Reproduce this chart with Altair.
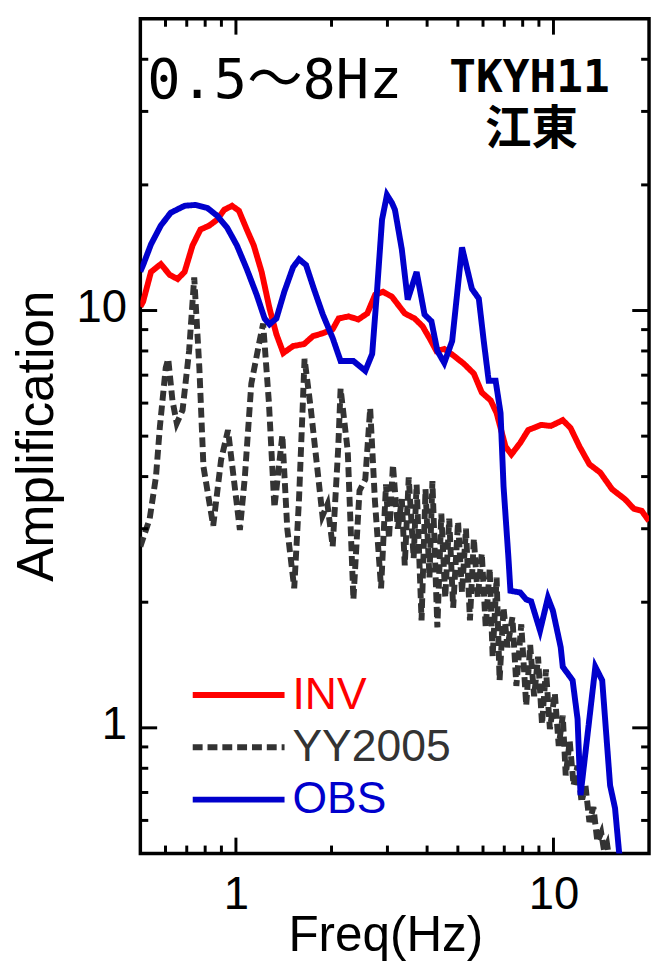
import altair as alt
import pandas as pd

# ---------------- data ----------------
inv_f = [0.50, 0.510, 0.540, 0.580, 0.619, 0.655, 0.689, 0.730, 0.773, 0.824,
         0.873, 0.918, 0.972, 1.022, 1.082, 1.138, 1.205, 1.276, 1.341, 1.410,
         1.514, 1.639, 1.748, 1.878, 2.017, 2.106, 2.262, 2.430, 2.592, 2.744,
         2.906, 3.100, 3.402, 3.654, 3.870, 4.069, 4.279, 4.530, 4.867, 5.227,
         5.615, 5.947, 6.343, 6.622, 7.063, 7.372, 7.862, 8.326, 9.139, 9.815,
         10.70, 11.32, 12.08, 12.98, 14.04, 15.30, 16.80, 17.91, 18.97, 20.0]
inv_a = [10.22, 10.50, 12.37, 12.92, 12.17, 11.90, 12.37, 14.32, 15.63, 15.98,
         16.51, 17.43, 17.82, 17.34, 15.63, 14.32, 12.37, 10.11, 8.77, 7.91,
         8.22, 8.31, 8.68, 8.82, 9.02, 9.57, 9.68, 9.52, 9.84, 10.91,
         11.09, 10.79, 9.84, 9.57, 9.17, 8.59, 8.00, 8.09, 7.78, 7.45,
         7.06, 6.36, 6.09, 5.68, 4.72, 4.52, 4.82, 5.17, 5.32, 5.29,
         5.46, 5.23, 4.72, 4.28, 4.09, 3.73, 3.53, 3.35, 3.31, 3.13]

obs_f = [0.50, 0.510, 0.540, 0.580, 0.623, 0.689, 0.746, 0.812, 0.873, 0.938,
         1.007, 1.082, 1.162, 1.231, 1.276, 1.341, 1.420, 1.514, 1.581, 1.663,
         1.760, 1.878, 2.017, 2.136, 2.344, 2.555, 2.686, 2.785, 2.885, 2.990,
         3.100, 3.168, 3.330, 3.475, 3.707, 3.926, 4.128, 4.309, 4.530, 4.797,
         5.152, 5.535, 5.820, 6.032, 6.252, 6.574, 6.814, 6.963, 7.216, 7.320,
         7.862, 8.208, 8.506, 9.073, 9.607, 9.957, 10.54, 10.70, 11.49, 11.91,
         12.17, 12.79, 13.55, 14.24, 15.08, 15.63, 16.09, 16.4]
obs_a = [12.4, 12.85, 14.40, 15.98, 17.15, 17.82, 17.91, 17.62, 16.87, 15.80,
         14.32, 12.57, 10.91, 9.57, 9.27, 9.57, 11.09, 12.71, 13.27, 12.85,
         11.27, 9.78, 8.59, 7.57, 7.57, 7.17, 7.87, 11.27, 16.51, 18.92,
         18.11, 17.43, 14.01, 10.62, 12.37, 9.78, 9.42, 8.00, 7.49, 8.45,
         14.17, 11.27, 10.68, 8.45, 6.79, 6.79, 5.68, 3.79, 2.55, 2.13,
         2.11, 2.03, 2.01, 1.71, 2.05, 1.91, 1.56, 1.40, 1.30, 1.05,
         0.690, 0.956, 1.40, 1.30, 0.728, 0.642, 0.505, 0.46]

yy_f = [0.50, 0.535, 0.560, 0.576, 0.601, 0.612, 0.631, 0.651, 0.679, 0.712,
        0.739, 0.767, 0.790, 0.848, 0.898, 0.944, 1.029, 1.067, 1.118, 1.187,
        1.218, 1.270, 1.322, 1.400, 1.451, 1.526, 1.580, 1.645, 1.723, 1.873,
        1.942, 2.017, 2.100, 2.136, 2.250, 2.344, 2.450, 2.555, 2.647, 2.740,
        2.865,
        2.969, 3.034, 3.122, 3.236, 3.330, 3.402, 3.501, 3.628, 3.707, 3.842,
        3.954, 4.069, 4.157, 4.309, 4.434, 4.563, 4.696, 4.832, 5.007, 5.152,
        5.302, 5.457, 5.615, 5.778, 5.947, 6.119, 6.297, 6.434, 6.622, 6.766,
        6.963, 7.165, 7.426, 7.642, 7.918, 8.208, 8.446, 8.692, 8.944, 9.204,
        9.471, 9.745, 10.10, 10.39, 10.70, 10.93, 11.25, 11.57, 11.91, 12.26,
        12.61, 12.98, 13.36, 13.75, 14.14, 14.45, 14.76, 15.08]
yy_a = [2.72, 3.17, 4.00, 5.26, 7.29, 7.66, 6.09, 5.37, 5.77, 8.00,
        12.0, 7.29, 4.23, 3.05, 4.39, 5.17, 2.98, 4.00, 6.68, 8.45,
        9.30, 6.02, 3.37, 5.03, 3.00, 2.16, 3.53, 7.66, 5.77, 3.22,
        3.43, 2.72, 4.70, 6.50, 4.60, 2.03, 3.70, 3.94, 5.83, 3.50,
        2.16,
        3.83, 2.84, 4.27, 3.00, 3.53, 2.45, 3.98, 2.55, 3.83, 1.81,
        3.73, 2.29, 3.90, 1.74, 3.26, 2.05, 3.17, 1.94, 3.12, 2.11,
        3.00, 1.81, 2.84, 2.05, 2.62, 1.74, 2.41, 1.48, 2.29, 1.30,
        1.94, 1.56, 1.84, 1.26, 1.77, 1.13, 1.58, 1.19, 1.48, 1.02,
        1.38, 0.993, 1.21, 0.905, 1.07, 0.769, 0.930, 0.728, 0.812, 0.664,
        0.728, 0.595, 0.646, 0.533, 0.560, 0.505, 0.525, 0.47]

series = ["INV", "YY2005", "OBS"]
colors = ["#ff0000", "#333333", "#0000cc"]
dashes = [[1, 0], [10, 5], [1, 0]]

x_labels = [1, 10]
y_labels = [1, 10]
x_major = [1, 10]
x_minor = [0.6, 0.7, 0.8, 0.9, 2, 3, 4, 5, 6, 7, 8, 9]
y_major = [1, 10]
y_minor = [0.6, 0.7, 0.8, 0.9, 2, 3, 4, 5, 6, 7, 8, 9, 20, 30, 40]

title_range = "0.5～8Hz"
station = "TKYH11"
place = "江東"

# ---------------- chart ----------------
W, H = 515, 845
MAJ, MIN = 16, 8
FONT = "Liberation Sans, Arial, sans-serif"
LW = 6

xs = alt.Scale(type="log", domain=[0.5, 20], nice=False)
ys = alt.Scale(type="log", domain=[0.5, 50], nice=False)

x_axis = alt.Axis(values=x_labels, format="d", ticks=False, tickSize=0, domain=False,
                  grid=False, labelFontSize=46, labelFont=FONT, labelColor="black",
                  labelPadding=20, labelFlush=False, title="Freq(Hz)", titleFontSize=50,
                  titleFont=FONT, titleFontWeight="normal", titleColor="black",
                  titleX=248, titleY=98, titleBaseline="alphabetic", titleAlign="center")
y_axis = alt.Axis(values=y_labels, format="d", ticks=False, tickSize=0, domain=False,
                  grid=False, labelFontSize=46, labelFont=FONT, labelColor="black",
                  labelPadding=14, labelBaseline="alphabetic", labelOffset=11, labelFlush=False,
                  title="Amplification", titleFontSize=52, titleFont=FONT,
                  titleFontWeight="normal", titleColor="black", titleX=-89, titleY=422,
                  titleAngle=270, titleBaseline="alphabetic", titleAlign="center")

frames = []
for name, fs, as_ in [("INV", inv_f, inv_a), ("YY2005", yy_f, yy_a), ("OBS", obs_f, obs_a)]:
    frames.append(pd.DataFrame({"f": fs, "a": as_, "series": name}))
df = pd.concat(frames, ignore_index=True)

legend = alt.Legend(orient="none", legendX=77, legendY=662, title=None,
                    symbolType="M-4,0H4", symbolSize=540, symbolStrokeWidth=LW,
                    labelFontSize=45, labelFont=FONT, labelOffset=32, labelLimit=0,
                    labelColor=alt.ExprRef(expr="datum.label == 'INV' ? '#ff0000' : (datum.label == 'OBS' ? '#0000cc' : '#333333')"),
                    rowPadding=7, padding=0)


def line_layer(name):
    return alt.Chart(df[df.series == name]).mark_line(strokeWidth=LW, clip=True, strokeCap="butt").encode(
        x=alt.X("f:Q", scale=xs, axis=x_axis),
        y=alt.Y("a:Q", scale=ys, axis=y_axis),
        color=alt.Color("series:N", scale=alt.Scale(domain=series, range=colors), legend=legend),
        strokeDash=alt.StrokeDash("series:N", scale=alt.Scale(domain=series, range=dashes), legend=legend),
    )


def xticks(vals, length):
    d = pd.DataFrame({"v": vals})
    base = alt.Chart(d).mark_rule(color="black", strokeWidth=3)
    enc_x = alt.X("v:Q", scale=xs, axis=x_axis)
    return [base.encode(x=enc_x, y=alt.value(H), y2=alt.value(H - length)),
            base.encode(x=enc_x, y=alt.value(0), y2=alt.value(length))]


def yticks(vals, length):
    d = pd.DataFrame({"v": vals})
    base = alt.Chart(d).mark_rule(color="black", strokeWidth=3)
    enc_y = alt.Y("v:Q", scale=ys, axis=y_axis)
    return [base.encode(y=enc_y, x=alt.value(0), x2=alt.value(length)),
            base.encode(y=enc_y, x=alt.value(W), x2=alt.value(W - length))]


ticks = xticks(x_major, MAJ) + xticks(x_minor, MIN) + yticks(y_major, MAJ + 1) + yticks(y_minor, MIN)

txt1 = alt.Chart(pd.DataFrame({"t": [title_range]})).mark_text(
    font="DejaVu Sans Mono, Noto Sans CJK JP", fontSize=56, align="left", baseline="alphabetic",
    color="black").encode(text="t:N", x=alt.value(7), y=alt.value(80))
txt2 = alt.Chart(pd.DataFrame({"t": [station]})).mark_text(
    font="DejaVu Sans Mono", fontSize=45, fontWeight="bold", align="center",
    baseline="alphabetic", color="black").encode(text="t:N", x=alt.value(394), y=alt.value(74))
txt3 = alt.Chart(pd.DataFrame({"t": [place]})).mark_text(
    font="Noto Sans CJK JP", fontSize=47, fontWeight="bold", align="center",
    baseline="alphabetic", color="black").encode(text="t:N", x=alt.value(396), y=alt.value(127))

chart = alt.layer(
    line_layer("YY2005"), line_layer("INV"), line_layer("OBS"),
    *ticks, txt1, txt2, txt3
).properties(
    width=W, height=H,
    autosize=alt.AutoSizeParams(type="none"),
    padding={"left": 134, "top": 5, "right": 3, "bottom": 110},
    background="white",
).configure_view(stroke="black", strokeWidth=3.5)

chart.save("out.html", embed_options={"renderer": "svg", "actions": False})
